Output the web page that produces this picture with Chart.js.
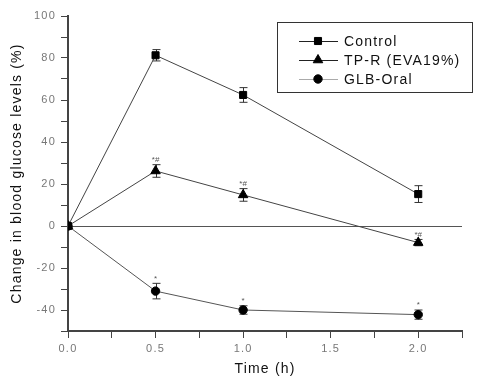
<!DOCTYPE html>
<html>
<head>
<meta charset="utf-8">
<script src="https://cdn.jsdelivr.net/npm/chart.js@4.4.0/dist/chart.umd.min.js"></script>
<style>
  html, body { margin: 0; padding: 0; background: #fff; }
  canvas { display: block; }
</style>
</head>
<body>
<canvas id="myChart" width="500" height="384"></canvas>
<script>
'use strict';

const times = [0, 0.5, 1.0, 2.0];
const seriesNames = ['Control', 'TP-R (EVA19%)', 'GLB-Oral'];
const controlValues = [0, 81.3, 62.4, 15.2];
const controlErrors = [0, 2.7, 3.5, 4.0];
const tprValues = [0, 26.2, 14.8, -7.9];
const tprErrors = [0, 3.0, 3.0, 1.5];
const glbValues = [0, -31.0, -40.0, -42.2];
const glbErrors = [0, 3.7, 2.0, 2.2];
const controlMarks = ['', '', '', ''];
const tprMarks = ['', '*#', '*#', '*#'];
const glbMarks = ['', '*', '*', '*'];
const xTickLabels = ['0.0', '0.5', '1.0', '1.5', '2.0'];
const yTickLabels = ['100', '80', '60', '40', '20', '0', '-20', '-40'];

const FONT = '"Liberation Sans", Arial, sans-serif';

function toPoints(values) {
    return values.map((v, i) => ({ x: times[i], y: v }));
}

function setSpacing(chart) {
    chart.ctx.letterSpacing = '1.2px';
}

const errorBars = {
    id: 'errorBars',
    beforeUpdate: setSpacing,
    beforeRender: setSpacing,
    beforeDatasetsDraw(chart) {
        const ctx = chart.ctx;
        const ys = chart.scales.y;
        ctx.save();
        ctx.strokeStyle = '#333';
        ctx.lineWidth = 1;
        chart.data.datasets.forEach((ds, di) => {
            const meta = chart.getDatasetMeta(di);
            meta.data.forEach((pt, i) => {
                const e = ds.errors[i];
                if (!e) return;
                const v = ds.data[i].y;
                const x = Math.round(pt.x) + 0.5;
                const t = ys.getPixelForValue(v + e);
                const b = ys.getPixelForValue(v - e);
                ctx.beginPath();
                ctx.moveTo(x, t); ctx.lineTo(x, b);
                ctx.moveTo(x - 4, t); ctx.lineTo(x + 4, t);
                ctx.moveTo(x - 4, b); ctx.lineTo(x + 4, b);
                ctx.stroke();
            });
        });
        ctx.restore();
    },
    afterDatasetsDraw(chart) {
        const ctx = chart.ctx;
        const ys = chart.scales.y;
        ctx.save();
        ctx.letterSpacing = '0px';
        ctx.fillStyle = '#555';
        ctx.font = '8px ' + FONT;
        ctx.textAlign = 'center';
        ctx.textBaseline = 'bottom';
        chart.data.datasets.forEach((ds, di) => {
            const meta = chart.getDatasetMeta(di);
            meta.data.forEach((pt, i) => {
                const m = ds.marks[i];
                if (!m) return;
                const t = ys.getPixelForValue(ds.data[i].y + ds.errors[i]);
                ctx.fillText(m, pt.x, t - 1);
            });
        });
        ctx.restore();
    },
    afterDraw(chart) {
        // legend box in the upper right
        const ctx = chart.ctx;
        ctx.save();
        ctx.letterSpacing = '1.2px';
        ctx.strokeStyle = '#333';
        ctx.lineWidth = 1;
        ctx.strokeRect(277.5, 22.5, 195, 70);
        ctx.font = '14px ' + FONT;
        ctx.textBaseline = 'middle';
        ctx.textAlign = 'left';
        const legendLines = ['#222', '#222', '#aaa'];
        chart.data.datasets.forEach((ds, di) => {
            const y = 41 + di * 19;
            ctx.strokeStyle = legendLines[di];
            ctx.beginPath();
            ctx.moveTo(299, y + 0.5); ctx.lineTo(338, y + 0.5);
            ctx.stroke();
            ctx.fillStyle = '#000';
            ctx.strokeStyle = '#000';
            Chart.helpers.drawPoint(ctx, {
                pointStyle: ds.pointStyle, radius: ds.pointRadius, rotation: 0, borderWidth: 1
            }, 318, y);
            ctx.fillStyle = '#111';
            ctx.fillText(ds.label, 344, y + 1);
        });
        ctx.restore();
    }
};

function makeSet(label, values, errors, marks, style, radius, color) {
    return {
        label: label,
        data: toPoints(values),
        errors: errors,
        marks: marks,
        borderColor: color,
        borderWidth: 1,
        pointStyle: style,
        pointRadius: radius,
        pointBackgroundColor: '#000',
        pointBorderColor: '#000',
        pointBorderWidth: 1,
        fill: false,
        tension: 0
    };
}

const ctx = document.getElementById('myChart').getContext('2d');
const myChart = new Chart(ctx, {
    type: 'line',
    data: {
        datasets: [
            makeSet(seriesNames[0], controlValues, controlErrors, controlMarks, 'rect', 5, '#444'),
            makeSet(seriesNames[1], tprValues, tprErrors, tprMarks, 'triangle', 5.5, '#444'),
            makeSet(seriesNames[2], glbValues, glbErrors, glbMarks, 'circle', 4.2, '#555')
        ]
    },
    options: {
        responsive: false,
        animation: false,
        devicePixelRatio: 1,
        layout: { padding: { top: 16, right: 38, left: 0, bottom: 0 } },
        plugins: {
            legend: { display: false },
            tooltip: { enabled: false }
        },
        scales: {
            x: {
                type: 'linear',
                min: 0,
                max: 2.25,
                afterFit(scale) { scale.height = 53; },
                ticks: {
                    stepSize: 0.25,
                    autoSkip: false,
                    maxRotation: 0,
                    padding: 4,
                    color: '#777',
                    font: { family: FONT, size: 11 },
                    callback(v) {
                        const s = v.toFixed(1);
                        return (Math.abs(v * 2 - Math.round(v * 2)) < 1e-6 && xTickLabels.includes(s)) ? s : '';
                    }
                },
                grid: { color: 'transparent', tickColor: '#444', tickLength: 7 },
                border: { display: true, color: '#444', width: 2 },
                title: {
                    display: true,
                    text: 'Time (h)',
                    color: '#111',
                    font: { family: FONT, size: 14 },
                    padding: { top: 0, bottom: 6 }
                }
            },
            y: {
                min: -50,
                max: 100,
                afterFit(scale) { scale.width = 68; },
                ticks: {
                    stepSize: 10,
                    autoSkip: false,
                    padding: 5,
                    color: '#777',
                    font: { family: FONT, size: 11 },
                    callback(v) {
                        const s = String(Math.round(v));
                        return yTickLabels.includes(s) ? s : '';
                    }
                },
                grid: {
                    color: (c) => (c.tick && c.tick.value === 0) ? '#555' : 'transparent',
                    tickColor: '#444',
                    tickLength: 7
                },
                border: { display: true, color: '#444', width: 2 },
                title: {
                    display: true,
                    text: 'Change in blood glucose levels (%)',
                    color: '#111',
                    font: { family: FONT, size: 14 },
                    padding: { top: 9, bottom: 0 }
                }
            }
        }
    },
    plugins: [errorBars]
});
</script>
</body>
</html>
